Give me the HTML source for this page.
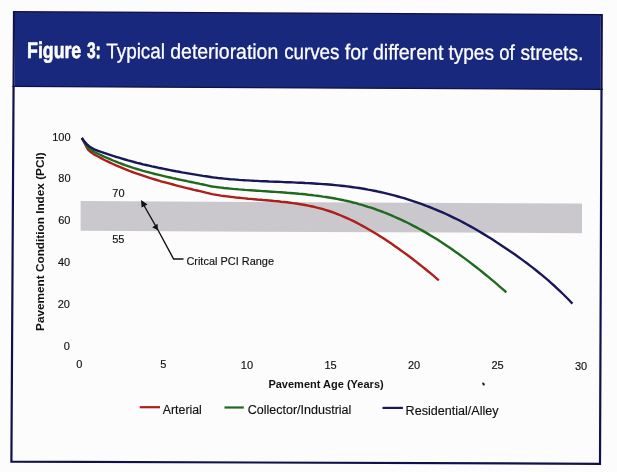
<!DOCTYPE html>
<html><head><meta charset="utf-8"><style>
html,body{margin:0;padding:0;background:#fdfcfd;width:617px;height:472px;overflow:hidden}
svg{display:block;will-change:transform}
text{font-family:"Liberation Sans",sans-serif}
</style></head><body>
<svg width="617" height="472" viewBox="0 0 617 472">
<rect x="0" y="0" width="617" height="472" fill="#fdfcfd"/>
<polygon points="14.0,12.0 601.8,15.1 600.0,463.8 11.4,461.6" fill="none" stroke="#10114a" stroke-width="2.2"/>
<polygon points="15.0,12.2 600.8,15.3 600.7,89.5 14.6,86.6" fill="#18287c"/>
<line x1="12.4" y1="86.4" x2="603" y2="89.3" stroke="#10114a" stroke-width="1.2"/>
<g transform="rotate(0.22 28 57.9)">
<text x="27.12" y="57.9" font-size="22.6" font-weight="bold" fill="#fff" stroke="#fff" stroke-width="0.6" textLength="54.09" lengthAdjust="spacingAndGlyphs">Figure</text>
<text x="86.94" y="57.9" font-size="22.6" font-weight="bold" fill="#fff" stroke="#fff" stroke-width="0.6" textLength="13.86" lengthAdjust="spacingAndGlyphs">3:</text>
<text x="106.23" y="57.9" font-size="21.2" fill="#fff" stroke="#fff" stroke-width="0.3" textLength="58.76" lengthAdjust="spacingAndGlyphs">Typical</text>
<text x="170.34" y="57.9" font-size="21.2" fill="#fff" stroke="#fff" stroke-width="0.3" textLength="107.88" lengthAdjust="spacingAndGlyphs">deterioration</text>
<text x="284.15" y="57.9" font-size="21.2" fill="#fff" stroke="#fff" stroke-width="0.3" textLength="55.28" lengthAdjust="spacingAndGlyphs">curves</text>
<text x="344.87" y="57.9" font-size="21.2" fill="#fff" stroke="#fff" stroke-width="0.3" textLength="22.80" lengthAdjust="spacingAndGlyphs">for</text>
<text x="372.93" y="57.9" font-size="21.2" fill="#fff" stroke="#fff" stroke-width="0.3" textLength="70.46" lengthAdjust="spacingAndGlyphs">different</text>
<text x="448.46" y="57.9" font-size="21.2" fill="#fff" stroke="#fff" stroke-width="0.3" textLength="45.48" lengthAdjust="spacingAndGlyphs">types</text>
<text x="499.28" y="57.9" font-size="21.2" fill="#fff" stroke="#fff" stroke-width="0.3" textLength="15.35" lengthAdjust="spacingAndGlyphs">of</text>
<text x="520.52" y="57.9" font-size="21.2" fill="#fff" stroke="#fff" stroke-width="0.3" textLength="62.78" lengthAdjust="spacingAndGlyphs">streets.</text>
</g>
<polygon points="80.6,201.1 582,203.5 582,233.2 80.6,230.8" fill="#cac8cc"/>
<g font-size="11" fill="#111" stroke="#111" stroke-width="0.15" text-anchor="end">
<text x="70.6" y="140.8">100</text>
<text x="70.6" y="182.4">80</text>
<text x="70.4" y="224.2">60</text>
<text x="70.2" y="266">40</text>
<text x="70" y="308.4">20</text>
<text x="69.8" y="350.4">0</text>
</g>
<g font-size="11" fill="#111" stroke="#111" stroke-width="0.15" text-anchor="middle">
<text x="79.4" y="367.8">0</text>
<text x="163.3" y="368.2">5</text>
<text x="246.9" y="368.6">10</text>
<text x="330.5" y="369">15</text>
<text x="414" y="369.2">20</text>
<text x="497.5" y="369.4">25</text>
<text x="581" y="369.8">30</text>
</g>
<text x="268.4" y="388.2" font-size="11" font-weight="bold" fill="#111" textLength="115.3" lengthAdjust="spacingAndGlyphs">Pavement Age (Years)</text>
<text transform="translate(44.3 330.9) rotate(-90)" font-size="11.7" font-weight="bold" fill="#111" textLength="178.5" lengthAdjust="spacingAndGlyphs">Pavement Condition Index (PCI)</text>
<g font-size="11" fill="#111" stroke="#111" stroke-width="0.15" text-anchor="middle">
<text x="118.4" y="196.6">70</text>
<text x="118.3" y="242.6">55</text>
</g>
<polyline points="142,202 157.7,229.5 173.6,259 183.5,259" fill="none" stroke="#111" stroke-width="1.4" stroke-linejoin="miter"/>
<polygon points="141.0,200.0 147.6,204.6 141.6,207.6" fill="#111"/>
<polygon points="157.8,230.2 152.2,227.2 157.6,223.8" fill="#111"/>
<text x="186.4" y="264.5" font-size="11" fill="#111" stroke="#111" stroke-width="0.15" textLength="87.6" lengthAdjust="spacingAndGlyphs">Critcal PCI Range</text>
<path d="M81.8 138.0 L84.0 142.0 L86.5 147.0 L88.0 149.6 L91.0 152.3 L95.0 154.9 L98.0 156.5 L101.0 158.1 L104.0 159.7 L107.0 161.2 L110.0 162.6 L113.0 164.0 L116.0 165.4 L119.0 166.7 L122.0 167.9 L125.0 169.1 L128.0 170.3 L131.0 171.5 L134.0 172.6 L137.0 173.7 L140.0 174.7 L143.0 175.7 L146.0 176.7 L149.0 177.7 L152.0 178.6 L155.0 179.5 L158.0 180.4 L161.0 181.3 L164.0 182.1 L167.0 182.9 L170.0 183.7 L173.0 184.5 L176.0 185.3 L179.0 186.1 L182.0 186.8 L185.0 187.6 L188.0 188.3 L191.0 189.0 L194.0 189.8 L197.0 190.5 L200.0 191.2 L203.0 191.9 L206.0 192.7 L209.0 193.4 L212.0 194.1 L215.0 194.6 L218.0 195.1 L221.0 195.6 L224.0 196.0 L227.0 196.4 L230.0 196.8 L233.0 197.1 L236.0 197.5 L239.0 197.8 L242.0 198.1 L245.0 198.4 L248.0 198.7 L251.0 198.9 L254.0 199.2 L257.0 199.5 L260.0 199.7 L263.0 200.0 L266.0 200.2 L269.0 200.5 L272.0 200.8 L275.0 201.1 L278.0 201.3 L281.0 201.7 L284.0 202.0 L287.0 202.3 L290.0 202.7 L293.0 203.1 L296.0 203.5 L299.0 204.0 L302.0 204.5 L305.0 205.0 L308.0 205.6 L311.0 206.2 L314.0 206.8 L317.0 207.6 L320.0 208.3 L323.0 209.2 L326.0 210.1 L329.0 211.0 L332.0 212.0 L335.0 213.1 L338.0 214.3 L341.0 215.5 L344.0 216.8 L347.0 218.1 L350.0 219.5 L353.0 220.9 L356.0 222.4 L359.0 224.0 L362.0 225.6 L365.0 227.3 L368.0 229.0 L371.0 230.7 L374.0 232.5 L377.0 234.3 L380.0 236.2 L383.0 238.1 L386.0 240.1 L389.0 242.1 L392.0 244.1 L395.0 246.2 L398.0 248.3 L401.0 250.4 L404.0 252.6 L407.0 254.8 L410.0 257.0 L413.0 259.3 L416.0 261.6 L419.0 264.0 L422.0 266.4 L425.0 268.8 L428.0 271.2 L431.0 273.7 L434.0 276.2 L437.0 278.8 L438.8 280.3" fill="none" stroke="#ac1f1a" stroke-width="2.4" stroke-linejoin="round"/>
<path d="M81.8 138.0 L84.0 141.6 L86.5 145.3 L88.0 147.8 L92.0 150.4 L95.0 152.2 L98.0 153.7 L101.0 155.2 L104.0 156.6 L107.0 157.9 L110.0 159.2 L113.0 160.5 L116.0 161.7 L119.0 162.9 L122.0 164.0 L125.0 165.1 L128.0 166.1 L131.0 167.1 L134.0 168.1 L137.0 169.0 L140.0 169.9 L143.0 170.8 L146.0 171.6 L149.0 172.4 L152.0 173.2 L155.0 174.0 L158.0 174.7 L161.0 175.4 L164.0 176.1 L167.0 176.8 L170.0 177.5 L173.0 178.2 L176.0 178.8 L179.0 179.5 L182.0 180.1 L185.0 180.7 L188.0 181.4 L191.0 182.0 L194.0 182.6 L197.0 183.2 L200.0 183.9 L203.0 184.5 L206.0 185.1 L209.0 185.8 L212.0 186.5 L215.0 186.9 L218.0 187.3 L221.0 187.6 L224.0 188.0 L227.0 188.3 L230.0 188.6 L233.0 188.9 L236.0 189.1 L239.0 189.4 L242.0 189.6 L245.0 189.9 L248.0 190.1 L251.0 190.3 L254.0 190.5 L257.0 190.7 L260.0 190.9 L263.0 191.1 L266.0 191.3 L269.0 191.5 L272.0 191.7 L275.0 191.9 L278.0 192.1 L281.0 192.3 L284.0 192.5 L287.0 192.8 L290.0 193.0 L293.0 193.2 L296.0 193.5 L299.0 193.8 L302.0 194.0 L305.0 194.3 L308.0 194.7 L311.0 195.0 L314.0 195.4 L317.0 195.7 L320.0 196.1 L323.0 196.6 L326.0 197.0 L329.0 197.5 L332.0 198.0 L335.0 198.5 L338.0 199.1 L341.0 199.7 L344.0 200.3 L347.0 201.0 L350.0 201.7 L353.0 202.5 L356.0 203.2 L359.0 204.1 L362.0 204.9 L365.0 205.8 L368.0 206.8 L371.0 207.7 L374.0 208.7 L377.0 209.8 L380.0 210.9 L383.0 212.0 L386.0 213.2 L389.0 214.4 L392.0 215.7 L395.0 217.0 L398.0 218.3 L401.0 219.7 L404.0 221.1 L407.0 222.5 L410.0 224.0 L413.0 225.6 L416.0 227.1 L419.0 228.8 L422.0 230.4 L425.0 232.1 L428.0 233.9 L431.0 235.7 L434.0 237.5 L437.0 239.3 L440.0 241.3 L443.0 243.2 L446.0 245.2 L449.0 247.2 L452.0 249.3 L455.0 251.4 L458.0 253.5 L461.0 255.7 L464.0 257.9 L467.0 260.1 L470.0 262.4 L473.0 264.7 L476.0 267.0 L479.0 269.4 L482.0 271.8 L485.0 274.2 L488.0 276.7 L491.0 279.2 L494.0 281.7 L497.0 284.2 L500.0 286.8 L503.0 289.3 L506.0 292.0 L506.4 292.3" fill="none" stroke="#1e6a1e" stroke-width="2.4" stroke-linejoin="round"/>
<path d="M81.8 138.0 L84.0 141.1 L86.5 143.9 L89.0 146.2 L92.0 148.0 L95.0 149.7 L98.0 150.8 L101.0 151.9 L104.0 152.9 L107.0 153.9 L110.0 154.9 L113.0 155.9 L116.0 156.8 L119.0 157.7 L122.0 158.6 L125.0 159.5 L128.0 160.4 L131.0 161.2 L134.0 162.0 L137.0 162.8 L140.0 163.5 L143.0 164.3 L146.0 165.0 L149.0 165.7 L152.0 166.4 L155.0 167.0 L158.0 167.7 L161.0 168.3 L164.0 168.9 L167.0 169.5 L170.0 170.1 L173.0 170.7 L176.0 171.3 L179.0 171.8 L182.0 172.4 L185.0 172.9 L188.0 173.4 L191.0 173.9 L194.0 174.4 L197.0 174.9 L200.0 175.4 L203.0 175.9 L206.0 176.3 L209.0 176.8 L212.0 177.3 L215.0 177.6 L218.0 178.0 L221.0 178.3 L224.0 178.6 L227.0 178.9 L230.0 179.2 L233.0 179.4 L236.0 179.6 L239.0 179.9 L242.0 180.1 L245.0 180.3 L248.0 180.4 L251.0 180.6 L254.0 180.8 L257.0 180.9 L260.0 181.1 L263.0 181.2 L266.0 181.3 L269.0 181.5 L272.0 181.6 L275.0 181.7 L278.0 181.8 L281.0 181.9 L284.0 182.1 L287.0 182.2 L290.0 182.3 L293.0 182.4 L296.0 182.6 L299.0 182.7 L302.0 182.8 L305.0 183.0 L308.0 183.1 L311.0 183.3 L314.0 183.5 L317.0 183.7 L320.0 183.9 L323.0 184.1 L326.0 184.3 L329.0 184.5 L332.0 184.8 L335.0 185.1 L338.0 185.4 L341.0 185.7 L344.0 186.0 L347.0 186.4 L350.0 186.8 L353.0 187.2 L356.0 187.6 L359.0 188.0 L362.0 188.5 L365.0 189.0 L368.0 189.6 L371.0 190.1 L374.0 190.7 L377.0 191.3 L380.0 192.0 L383.0 192.7 L386.0 193.4 L389.0 194.1 L392.0 194.9 L395.0 195.7 L398.0 196.5 L401.0 197.3 L404.0 198.2 L407.0 199.1 L410.0 200.1 L413.0 201.1 L416.0 202.1 L419.0 203.1 L422.0 204.2 L425.0 205.3 L428.0 206.5 L431.0 207.6 L434.0 208.9 L437.0 210.1 L440.0 211.4 L443.0 212.7 L446.0 214.0 L449.0 215.4 L452.0 216.9 L455.0 218.3 L458.0 219.8 L461.0 221.3 L464.0 222.9 L467.0 224.5 L470.0 226.1 L473.0 227.8 L476.0 229.5 L479.0 231.3 L482.0 233.1 L485.0 234.9 L488.0 236.7 L491.0 238.6 L494.0 240.5 L497.0 242.5 L500.0 244.4 L503.0 246.4 L506.0 248.4 L509.0 250.5 L512.0 252.5 L515.0 254.6 L518.0 256.7 L521.0 258.9 L524.0 261.1 L527.0 263.3 L530.0 265.6 L533.0 267.9 L536.0 270.3 L539.0 272.7 L542.0 275.1 L545.0 277.6 L548.0 280.2 L551.0 282.8 L554.0 285.5 L557.0 288.3 L560.0 291.1 L563.0 294.0 L566.0 297.0 L569.0 300.0 L572.0 303.2 L572.5 303.7" fill="none" stroke="#17175a" stroke-width="2.4" stroke-linejoin="round"/>
<ellipse cx="483.5" cy="384" rx="1.1" ry="1.7" transform="rotate(-35 483.5 384)" fill="#222"/>
<line x1="139.7" y1="407.2" x2="160" y2="407.2" stroke="#ac1f1a" stroke-width="2.2"/>
<line x1="224.5" y1="407.5" x2="243.8" y2="407.5" stroke="#1e6a1e" stroke-width="2.2"/>
<line x1="382.5" y1="407.9" x2="402.9" y2="407.9" stroke="#17175a" stroke-width="2.2"/>
<g font-size="12.5" fill="#111" stroke="#111" stroke-width="0.15">
<text x="162.8" y="413.8" textLength="39" lengthAdjust="spacingAndGlyphs">Arterial</text>
<text x="247.8" y="414.3" textLength="103.5" lengthAdjust="spacingAndGlyphs">Collector/Industrial</text>
<text x="405.6" y="415" textLength="93" lengthAdjust="spacingAndGlyphs">Residential/Alley</text>
</g>
</svg>
</body></html>
